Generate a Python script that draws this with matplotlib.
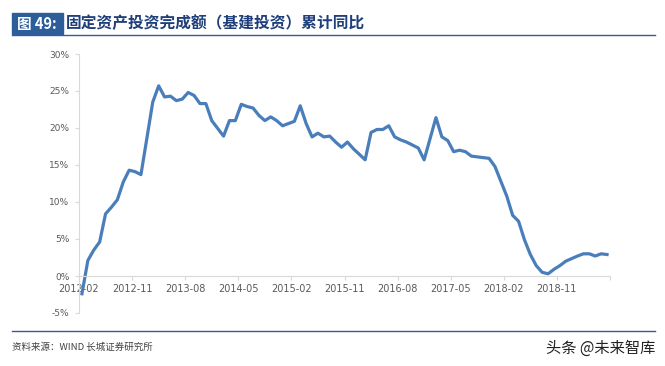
import pandas as pd
import matplotlib
matplotlib.use('Agg')
import matplotlib.pyplot as plt
from matplotlib.patches import Rectangle
from matplotlib.lines import Line2D

plt.rcParams['font.family'] = ['Noto Sans CJK SC', 'DejaVu Sans']

# 基建投资累计同比(%), 每年1月无单独数据(1-2月合并)
y2012 = [-2.4, 2.1, 3.5, 4.6, 8.4, 9.3, 10.3, 12.7, 14.3, 14.1, 13.7]
y2013 = [23.5, 25.7, 24.2, 24.3, 23.7, 23.9, 24.8, 24.4, 23.3, 23.3, 21.0]
y2014 = [18.9, 21.0, 21.0, 23.2, 22.9, 22.7, 21.7, 21.0, 21.5, 21.0, 20.3]
y2015 = [20.9, 23.0, 20.6, 18.8, 19.3, 18.8, 18.9, 18.1, 17.4, 18.1, 17.2]
y2016 = [15.7, 19.4, 19.8, 19.8, 20.3, 18.8, 18.4, 18.1, 17.7, 17.3, 15.7]
y2017 = [21.4, 18.8, 18.3, 16.8, 17.0, 16.8, 16.2, 16.1, 16.0, 15.9, 14.8]
y2018 = [10.8, 8.2, 7.4, 4.9, 2.9, 1.4, 0.5, 0.3, 0.9, 1.4, 2.0]
y2019 = [2.7, 3.0, 3.0, 2.7, 3.0, 2.9]

valores = y2012 + y2013 + y2014 + y2015 + y2016 + y2017 + y2018 + y2019
meses = [m for m in pd.period_range('2012-02', '2019-07', freq='M') if m.month != 1]
x = [(m.year - 2012) * 12 + m.month - 2 for m in meses]

etiquetas = ['2012-02', '2012-11', '2013-08', '2014-05', '2015-02',
             '2015-11', '2016-08', '2017-05', '2018-02', '2018-11']
yticks = [-5, 0, 5, 10, 15, 20, 25, 30]

W, H = 665, 366
fig = plt.figure(figsize=(W / 100, H / 100), dpi=100)

def fx(px):
    return px / W

def fy(py):
    return 1 - py / H

ax = fig.add_axes([fx(79), fy(313), fx(610) - fx(79), fy(54) - fy(313)])
ax.plot(x, valores, color='#4A7EBB', lw=2.3, solid_joinstyle='round')

# la posición del eje va antes de las etiquetas (si no, se reinician)
for s in ['top', 'right']:
    ax.spines[s].set_visible(False)
ax.spines['bottom'].set_position(('data', 0))
ax.spines['bottom'].set_color('#D9D9D9')
ax.spines['left'].set_color('#D9D9D9')

pos = []
for e in etiquetas:
    p = pd.Period(e, freq='M')
    pos.append((p.year - 2012) * 12 + p.month - 2 - 0.5)
ax.set_xticks(pos + [89.5])
ax.set_xticklabels(etiquetas + [''], fontsize=7, color='#595959', family='DejaVu Sans')
ax.set_xlim(-0.5, 89.5)
ax.set_ylim(-5, 30)
ax.set_yticks(yticks)
ax.set_yticklabels([f'{v}%' for v in yticks], fontsize=6.5, color='#595959', family='DejaVu Sans')
ax.tick_params(axis='x', length=3, color='#D9D9D9', pad=3)
ax.tick_params(axis='y', length=3, color='#D9D9D9', pad=4)

# título
fig.patches.append(Rectangle((fx(12), fy(34)), fx(63) - fx(12), fy(13) - fy(34),
                             transform=fig.transFigure, color='#2E5E9A', zorder=1))
fig.text(fx(37), fy(23.5), '图 49:', color='white', fontsize=10.5, fontweight='bold',
         ha='center', va='center')
fig.text(fx(66), fy(23.5), '固定资产投资完成额（基建投资）累计同比', color='#1F3F7A',
         fontsize=11.3, fontweight='bold', ha='left', va='center')
fig.lines.append(Line2D([fx(12), fx(655)], [fy(34.5), fy(34.5)], transform=fig.transFigure,
                        color='#2E5E9A', lw=1))

# pie
fig.lines.append(Line2D([fx(12), fx(655)], [fy(331), fy(331)], transform=fig.transFigure,
                        color='#2E5E9A', lw=1))
fig.text(fx(12), fy(347), '资料来源：WIND 长城证券研究所', color='#404040', fontsize=6.8,
         style='italic', ha='left', va='center')
fig.text(fx(655), fy(348), '头条 @未来智库', color='#222222', fontsize=11,
         ha='right', va='center')

fig.savefig('out.png', dpi=100)
